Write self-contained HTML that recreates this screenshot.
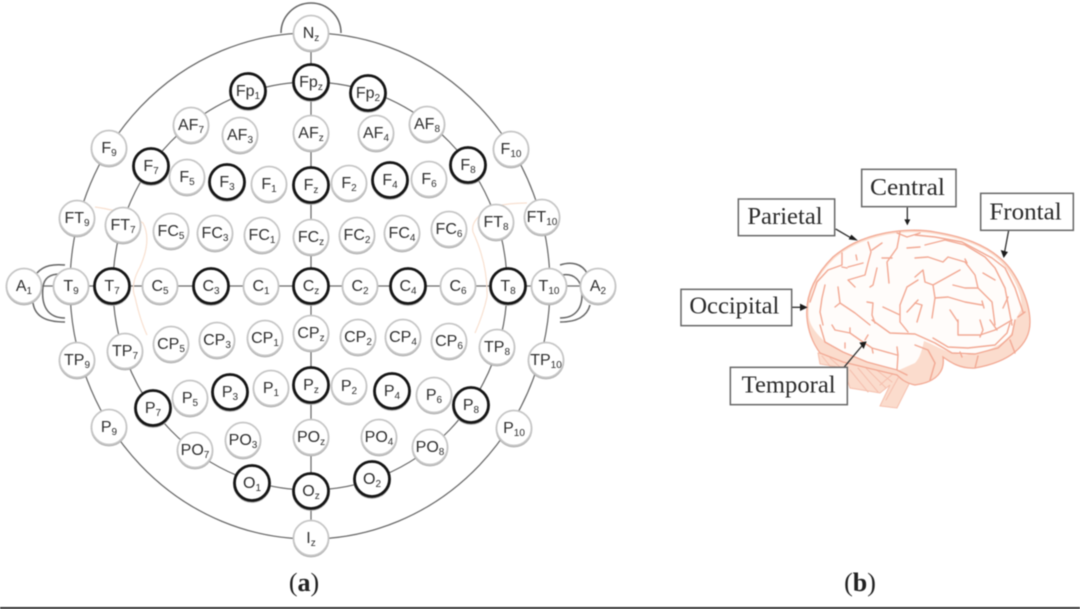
<!DOCTYPE html>
<html><head><meta charset="utf-8"><style>
html,body{margin:0;padding:0;background:#fff}
svg{display:block;filter:blur(.55px)}
.l{fill:none;stroke:#6a6a6a;stroke-width:1.25}
.e{fill:none;stroke:#666;stroke-width:1.5}
.o{fill:none;stroke:#f8e0d0;stroke-width:1.2}
.n circle{fill:#fff;stroke:#c6c6c6;stroke-width:1.7}
.n circle.b{stroke:#161616;stroke-width:2.8}
.n{filter:drop-shadow(0 1.5px 0 #b0b0b0)}
.t text{font:16px "Liberation Sans",sans-serif;fill:#2e2e2e;text-anchor:middle}
.t tspan{font-size:10px}
.box{fill:#fff;stroke:#666;stroke-width:4.5}
.s{fill:none;stroke:#f2a994;stroke-width:1.4;stroke-linecap:round;stroke-linejoin:round}
.c{fill:none;stroke:#f5bfae;stroke-width:1;stroke-linecap:round}
.lb{font:72px "Liberation Serif",serif;fill:#2b2b2b}
.ar{fill:none;stroke:#333;stroke-width:4}
.ah{fill:#1c1c1c}
.cap{font:26px "Liberation Serif",serif;fill:#222;text-anchor:middle}
</style></head><body>
<svg width="1080" height="609" viewBox="0 0 1080 609" xmlns="http://www.w3.org/2000/svg">
<ellipse class="l" cx="310" cy="286" rx="240" ry="253"/>
<ellipse class="l" cx="310" cy="286" rx="197" ry="204"/>
<path class="l" d="M311 33V538M24 286H598"/>
<path class="e" d="M281 33A30 30 0 0 1 341 33"/>
<path class="e" d="M37 273C44 265 54 264 65 265M60 274C50 274 44 278 43 287C41 305 47 318 65 318M33 303C35 316 45 322 65 322"/>
<path class="e" d="M560 265C572 261 582 264 587 273M562 275C574 273 582 280 582 295C582 310 574 318 560 318M590 305C587 316 578 322 560 322"/>
<path class="o" d="M95 207Q125 211 143 223Q152 240 140 267Q130 285 135 297Q140 320 147 335"/>
<path class="o" d="M527 203Q505 203 490 208Q470 220 473 232Q488 265 487 297Q483 315 475 333"/>
<g class="n">
<circle cx="311" cy="33" r="17.5"/><circle class="b" cx="311" cy="82" r="17.5"/><circle class="b" cx="248" cy="91" r="17.5"/><circle class="b" cx="368" cy="93" r="17.5"/>
<circle cx="191" cy="125" r="17.5"/><circle cx="240" cy="135" r="17.5"/><circle cx="311" cy="133" r="17.5"/><circle cx="376" cy="133" r="17.5"/><circle cx="427" cy="124" r="17.5"/>
<circle cx="109" cy="148" r="17.5"/><circle class="b" cx="151" cy="166" r="17.5"/><circle cx="187" cy="177" r="17.5"/><circle class="b" cx="227" cy="182" r="17.5"/><circle cx="269" cy="184" r="17.5"/><circle class="b" cx="311" cy="185" r="17.5"/><circle cx="349" cy="183" r="17.5"/><circle class="b" cx="390" cy="180" r="17.5"/><circle cx="429" cy="179" r="17.5"/><circle class="b" cx="468" cy="165" r="17.5"/><circle cx="511" cy="149" r="17.5"/>
<circle cx="77" cy="218" r="17.5"/><circle cx="123" cy="225" r="17.5"/><circle cx="171" cy="231" r="17.5"/><circle cx="215" cy="233" r="17.5"/><circle cx="262" cy="235" r="17.5"/><circle cx="311" cy="237" r="17.5"/><circle cx="357" cy="235" r="17.5"/><circle cx="402" cy="233" r="17.5"/><circle cx="449" cy="229" r="17.5"/><circle cx="496" cy="222" r="17.5"/><circle cx="542" cy="217" r="17.5"/>
<circle cx="24" cy="286" r="17.5"/><circle cx="71" cy="286" r="17.5"/><circle class="b" cx="112" cy="286" r="17.5"/><circle cx="160" cy="286" r="17.5"/><circle class="b" cx="211" cy="286" r="17.5"/><circle cx="261" cy="286" r="17.5"/><circle class="b" cx="311" cy="286" r="17.5"/><circle cx="360" cy="286" r="17.5"/><circle class="b" cx="408" cy="286" r="17.5"/><circle cx="458" cy="286" r="17.5"/><circle class="b" cx="508" cy="286" r="17.5"/><circle cx="549" cy="286" r="17.5"/><circle cx="598" cy="286" r="17.5"/>
<circle cx="171" cy="344" r="17.5"/><circle cx="217" cy="340" r="17.5"/><circle cx="265" cy="338" r="17.5"/><circle cx="311" cy="333" r="17.5"/><circle cx="358" cy="337" r="17.5"/><circle cx="403" cy="337" r="17.5"/><circle cx="449" cy="341" r="17.5"/>
<circle cx="125" cy="351" r="17.5"/><circle cx="77" cy="360" r="17.5"/><circle cx="497" cy="347" r="17.5"/><circle cx="546" cy="360" r="17.5"/>
<circle cx="109" cy="427" r="17.5"/><circle class="b" cx="153" cy="408" r="17.5"/><circle cx="190" cy="398" r="17.5"/><circle class="b" cx="230" cy="392" r="17.5"/><circle cx="271" cy="388" r="17.5"/><circle class="b" cx="311" cy="385" r="17.5"/><circle cx="349" cy="386" r="17.5"/><circle class="b" cx="392" cy="391" r="17.5"/><circle cx="434" cy="395" r="17.5"/><circle class="b" cx="471" cy="405" r="17.5"/><circle cx="514" cy="428" r="17.5"/>
<circle cx="195" cy="450" r="17.5"/><circle cx="243" cy="440" r="17.5"/><circle cx="311" cy="437" r="17.5"/><circle cx="379" cy="437" r="17.5"/><circle cx="430" cy="447" r="17.5"/>
<circle class="b" cx="252" cy="483" r="17.5"/><circle class="b" cx="311" cy="491" r="17.5"/><circle class="b" cx="372" cy="479" r="17.5"/><circle cx="311" cy="538" r="17.5"/>
</g>
<g class="t">
<text x="311" y="38">N<tspan dy="3">z</tspan></text><text x="311" y="87">Fp<tspan dy="3">z</tspan></text><text x="248" y="96">Fp<tspan dy="3">1</tspan></text><text x="368" y="98">Fp<tspan dy="3">2</tspan></text>
<text x="191" y="130">AF<tspan dy="3">7</tspan></text><text x="240" y="140">AF<tspan dy="3">3</tspan></text><text x="311" y="138">AF<tspan dy="3">z</tspan></text><text x="376" y="138">AF<tspan dy="3">4</tspan></text><text x="427" y="129">AF<tspan dy="3">8</tspan></text>
<text x="109" y="153">F<tspan dy="3">9</tspan></text><text x="151" y="171">F<tspan dy="3">7</tspan></text><text x="187" y="182">F<tspan dy="3">5</tspan></text><text x="227" y="187">F<tspan dy="3">3</tspan></text><text x="269" y="189">F<tspan dy="3">1</tspan></text><text x="311" y="190">F<tspan dy="3">z</tspan></text><text x="349" y="188">F<tspan dy="3">2</tspan></text><text x="390" y="185">F<tspan dy="3">4</tspan></text><text x="429" y="184">F<tspan dy="3">6</tspan></text><text x="468" y="170">F<tspan dy="3">8</tspan></text><text x="511" y="154">F<tspan dy="3">10</tspan></text>
<text x="77" y="223">FT<tspan dy="3">9</tspan></text><text x="123" y="230">FT<tspan dy="3">7</tspan></text><text x="171" y="236">FC<tspan dy="3">5</tspan></text><text x="215" y="238">FC<tspan dy="3">3</tspan></text><text x="262" y="240">FC<tspan dy="3">1</tspan></text><text x="311" y="242">FC<tspan dy="3">z</tspan></text><text x="357" y="240">FC<tspan dy="3">2</tspan></text><text x="402" y="238">FC<tspan dy="3">4</tspan></text><text x="449" y="234">FC<tspan dy="3">6</tspan></text><text x="496" y="227">FT<tspan dy="3">8</tspan></text><text x="542" y="222">FT<tspan dy="3">10</tspan></text>
<text x="24" y="291">A<tspan dy="3">1</tspan></text><text x="71" y="291">T<tspan dy="3">9</tspan></text><text x="112" y="291">T<tspan dy="3">7</tspan></text><text x="160" y="291">C<tspan dy="3">5</tspan></text><text x="211" y="291">C<tspan dy="3">3</tspan></text><text x="261" y="291">C<tspan dy="3">1</tspan></text><text x="311" y="291">C<tspan dy="3">z</tspan></text><text x="360" y="291">C<tspan dy="3">2</tspan></text><text x="408" y="291">C<tspan dy="3">4</tspan></text><text x="458" y="291">C<tspan dy="3">6</tspan></text><text x="508" y="291">T<tspan dy="3">8</tspan></text><text x="549" y="291">T<tspan dy="3">10</tspan></text><text x="598" y="291">A<tspan dy="3">2</tspan></text>
<text x="171" y="349">CP<tspan dy="3">5</tspan></text><text x="217" y="345">CP<tspan dy="3">3</tspan></text><text x="265" y="343">CP<tspan dy="3">1</tspan></text><text x="311" y="338">CP<tspan dy="3">z</tspan></text><text x="358" y="342">CP<tspan dy="3">2</tspan></text><text x="403" y="342">CP<tspan dy="3">4</tspan></text><text x="449" y="346">CP<tspan dy="3">6</tspan></text>
<text x="125" y="356">TP<tspan dy="3">7</tspan></text><text x="77" y="365">TP<tspan dy="3">9</tspan></text><text x="497" y="352">TP<tspan dy="3">8</tspan></text><text x="546" y="365">TP<tspan dy="3">10</tspan></text>
<text x="109" y="432">P<tspan dy="3">9</tspan></text><text x="153" y="413">P<tspan dy="3">7</tspan></text><text x="190" y="403">P<tspan dy="3">5</tspan></text><text x="230" y="397">P<tspan dy="3">3</tspan></text><text x="271" y="393">P<tspan dy="3">1</tspan></text><text x="311" y="390">P<tspan dy="3">z</tspan></text><text x="349" y="391">P<tspan dy="3">2</tspan></text><text x="392" y="396">P<tspan dy="3">4</tspan></text><text x="434" y="400">P<tspan dy="3">6</tspan></text><text x="471" y="410">P<tspan dy="3">8</tspan></text><text x="514" y="433">P<tspan dy="3">10</tspan></text>
<text x="195" y="455">PO<tspan dy="3">7</tspan></text><text x="243" y="445">PO<tspan dy="3">3</tspan></text><text x="311" y="442">PO<tspan dy="3">z</tspan></text><text x="379" y="442">PO<tspan dy="3">4</tspan></text><text x="430" y="452">PO<tspan dy="3">8</tspan></text>
<text x="252" y="488">O<tspan dy="3">1</tspan></text><text x="311" y="496">O<tspan dy="3">z</tspan></text><text x="372" y="484">O<tspan dy="3">2</tspan></text><text x="311" y="543">I<tspan dy="3">z</tspan></text>
</g>
<!-- brain -->
<path d="M818 353L820 364L843 368L850 388L880 393L890 385L880 406L897 408L910 382L915 370L880 358Z" fill="#fbdccd" stroke="#f5c0ae" stroke-width="1"/>
<path class="c" d="M850 370L868 392M858 368L878 392M866 368L886 388M874 368L892 382M822 356L830 366M830 358L840 367M880 385L895 372M886 400L898 378"/>
<path d="M807 318C805 295 815 275 833 257C845 247 860 238 885 233C900 230 920 229 935 232C965 237 985 245 1000 258C1015 270 1030 300 1030 322C1030 345 1010 362 975 368C960 369 950 362 943 357C945 370 938 382 915 385C905 383 900 378 897 375L843 362L820 353C812 342 808 330 807 318Z" fill="#fbdccd" stroke="#f2a994" stroke-width="1.3"/>
<path d="M809 318C807 295 817 275 835 258C847 248 862 240 885 235C900 232 920 231 935 234C965 239 985 247 999 260C1012 272 1024 295 1021 310C1016 318 1013 325 1012 332C1005 345 985 353 965 355C950 355 935 345 924 341C922 350 920 358 915 363L897 371L867 362L843 352L823 340C815 332 810 325 809 318Z" fill="#fffcfa"/>
<g class="s">
<path d="M868 242L871 252L868 263L865 275L848 280L855 287M872 250L882 243M848 267L863 263"/>
<path d="M842 253L842 265L828 270L817 282L810 302M842 267L847 268M856 255L857 260"/>
<path d="M825 285L822 298L820 312L823 325"/>
<path d="M838 287L840 303L855 313L870 325M840 303L835 307M867 302L873 303L872 315L875 323"/>
<path d="M900 232L897 248L887 262L889 283M877 268L873 285L870 287M882 258L892 258"/>
<path d="M918 280L907 287L900 305L900 322L908 332M883 307L900 315M918 300L907 312"/>
<path d="M897 233L907 237L920 233M907 248L920 247"/>
<path d="M915 235L935 237L962 242L992 258L1005 268L1015 288L1023 312"/>
<path d="M925 245L945 240L965 245L985 257L995 268L1005 288L1012 325"/>
<path d="M915 258L928 257L943 262L948 257L965 262L975 275L978 288L992 302L995 325M965 259L967 263"/>
<path d="M915 277L923 270L925 282L933 285L942 280L960 270"/>
<path d="M933 285L935 298L948 297L965 302L982 305M935 298L932 318M982 301L984 308"/>
<path d="M953 285L965 288L978 288M983 273L995 280M1008 297L1003 308M915 303L922 305L917 322M950 310L958 322M1025 312L1018 317"/>
<path d="M832 325L835 330L850 333L860 340L872 348L897 355M850 328L850 333M868 335L865 340M845 343L845 348M897 347L898 355L897 370M872 348L873 353"/>
<path d="M872 320L890 333L915 334L935 343L952 353L975 354L998 348L1012 335L1015 320"/>
<path d="M933 338L948 347L968 348L995 345L1007 333L1010 323M958 320L958 335L980 335L995 330L1012 320M980 320L983 330L980 337M997 330L990 320"/>
<path d="M820 325L825 342L843 352L867 362L897 370L907 375"/>
<path d="M915 345L928 350L935 363L930 380M960 352L962 357M978 356L975 368M1010 340L1015 353"/>
</g>
<g transform="translate(660 150) scale(.33333)">
<g class="ar"><path d="M742 172V215M527 237L580 268M1046 241L1034 305M388 472H425M552 652L608 585"/></g>
<g class="ah"><path d="M733 208H751L742 226ZM574 254L594 272L566 268ZM1022 300L1044 306L1031 324ZM420 461L443 472L420 483ZM598 578L620 574L611 597Z"/></g>
<rect class="box" x="605" y="58" width="283" height="112"/>
<rect class="box" x="235" y="147" width="289" height="110"/>
<rect class="box" x="962" y="130" width="278" height="111"/>
<rect class="box" x="63" y="418" width="332" height="109"/>
<rect class="box" x="211" y="652" width="351" height="112"/>
<text class="lb" x="630" y="135" textLength="225" lengthAdjust="spacingAndGlyphs">Central</text>
<text class="lb" x="262" y="222" textLength="226" lengthAdjust="spacingAndGlyphs">Parietal</text>
<text class="lb" x="988" y="208" textLength="217" lengthAdjust="spacingAndGlyphs">Frontal</text>
<text class="lb" x="88" y="491" textLength="270" lengthAdjust="spacingAndGlyphs">Occipital</text>
<text class="lb" x="245" y="728" textLength="282" lengthAdjust="spacingAndGlyphs">Temporal</text>
</g>
<text class="cap" x="304" y="591">(<tspan font-weight="bold">a</tspan>)</text>
<text class="cap" x="860" y="591">(<tspan font-weight="bold">b</tspan>)</text>
<rect x="0" y="607" width="1080" height="2" fill="#333"/>
</svg>
</body></html>
